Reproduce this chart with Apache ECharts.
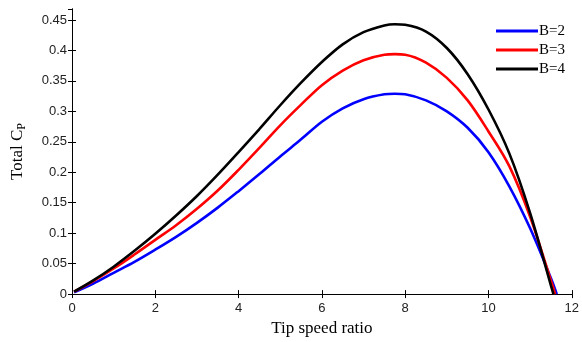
<!DOCTYPE html>
<html>
<head>
<meta charset="utf-8">
<script src="https://cdn.jsdelivr.net/npm/echarts@6/dist/echarts.min.js"></script>
<style>
html,body{margin:0;padding:0;background:#fff;}
#chart{width:582px;height:342px;}
</style>
</head>
<body>
<div id="chart"></div>
<script>
const seriesNames = ['B=2', 'B=3', 'B=4'];
const seriesColors = ['#0000ff', '#ff0000', '#000000'];

const xB2 = [0.05,0.5,1,1.5,2,2.5,3,3.5,4,4.5,5,5.5,6,6.5,7,7.5,7.75,8,8.5,9,9.5,10,10.5,11,11.5,11.64];
const yB2 = [0.003,0.017,0.035,0.053,0.073,0.094,0.117,0.142,0.169,0.197,0.226,0.254,0.283,0.305,0.320,0.328,0.329,0.328,0.318,0.300,0.273,0.233,0.177,0.108,0.026,0];

const xB3 = [0.05,0.5,1,1.5,2,2.5,3,3.5,4,4.5,5,5.5,6,6.5,7,7.5,7.75,8,8.5,9,9.5,10,10.5,11,11.5,11.6];
const yB3 = [0.004,0.021,0.042,0.065,0.089,0.113,0.140,0.170,0.204,0.240,0.277,0.311,0.343,0.367,0.384,0.393,0.394,0.393,0.380,0.355,0.318,0.267,0.210,0.127,0.022,0];

const xB4 = [0.05,0.5,1,1.5,2,2.5,3,3.5,4,4.5,5,5.5,6,6.5,7,7.5,7.75,8,8.5,9,9.5,10,10.5,11,11.5,11.56];
const yB4 = [0.004,0.022,0.045,0.071,0.099,0.129,0.161,0.196,0.233,0.271,0.310,0.347,0.381,0.410,0.430,0.441,0.443,0.442,0.431,0.404,0.361,0.303,0.231,0.133,0.014,0];

const xTicks = [0,2,4,6,8,10,12];
const yTicks = [0,0.05,0.1,0.15,0.2,0.25,0.3,0.35,0.4,0.45];

const xTitle = 'Tip speed ratio';
const yTitle = 'Total C{sub|P}';

const pairs = (xs, ys) => xs.map((x, i) => [x, ys[i]]);
const allData = [pairs(xB2, yB2), pairs(xB3, yB3), pairs(xB4, yB4)];

const chart = echarts.init(document.getElementById('chart'), null, {renderer: 'canvas'});

const tickFont = {fontFamily: 'Liberation Sans, Arial, sans-serif', fontSize: 13, color: '#222'};
const axisLine = {show: true, lineStyle: {color: '#000', width: 1}};
const axisTick = {show: true, inside: true, length: 4, lineStyle: {color: '#000', width: 1}};

chart.setOption({
  animation: false,
  backgroundColor: '#fff',
  grid: {left: 72, right: 7, top: 9, bottom: 45, containLabel: false},
  legend: {
    orient: 'vertical',
    left: 491,
    top: 18,
    itemWidth: 42,
    itemHeight: 3,
    itemGap: 3,
    icon: 'rect',
    data: seriesNames,
    textStyle: {fontFamily: 'Liberation Serif, Times New Roman, serif', fontSize: 15, color: '#000', lineHeight: 16, padding: [0, 0, 0, -4]},
    backgroundColor: 'transparent'
  },
  xAxis: [
    {
      type: 'value', min: xTicks[0], max: xTicks[xTicks.length - 1], interval: 2,
      position: 'bottom',
      name: xTitle, nameLocation: 'middle', nameGap: 20,
      nameTextStyle: {fontFamily: 'Liberation Serif, Times New Roman, serif', fontSize: 17, color: '#000'},
      axisLine: axisLine, axisTick: axisTick,
      axisLabel: Object.assign({margin: 8}, tickFont),
      splitLine: {show: false}
    },
    {
      type: 'value', min: xTicks[0], max: xTicks[xTicks.length - 1], interval: 2,
      position: 'top',
      axisLine: axisLine, axisTick: axisTick,
      axisLabel: {show: false}, splitLine: {show: false}
    }
  ],
  yAxis: [
    {
      type: 'value', min: 0, max: 0.468, interval: 0.05,
      position: 'left',
      name: yTitle, nameLocation: 'middle', nameGap: 44, nameRotate: 90,
      nameTextStyle: {
        fontFamily: 'Liberation Serif, Times New Roman, serif', fontSize: 17, color: '#000',
        rich: {sub: {fontFamily: 'Liberation Serif, Times New Roman, serif', fontSize: 12, verticalAlign: 'bottom', padding: [8, 0, 0, 0], color: '#000'}}
      },
      axisLine: axisLine, axisTick: axisTick,
      axisLabel: Object.assign({margin: 5, showMaxLabel: false, formatter: v => (yTicks.some(t => Math.abs(t - v) < 1e-9) ? String(+v.toFixed(2)) : '')}, tickFont),
      splitLine: {show: false}
    },
    {
      type: 'value', min: 0, max: 0.468, interval: 0.05,
      position: 'right',
      axisLine: axisLine, axisTick: axisTick,
      axisLabel: {show: false}, splitLine: {show: false}
    }
  ],
  series: allData.map((d, i) => ({
    name: seriesNames[i],
    type: 'line',
    xAxisIndex: 0, yAxisIndex: 0,
    data: d,
    smooth: 0.35,
    symbol: 'none',
    showSymbol: false,
    lineStyle: {color: seriesColors[i], width: 2.6},
    itemStyle: {color: seriesColors[i]},
    z: 2 + i
  }))
});
</script>
</body>
</html>
